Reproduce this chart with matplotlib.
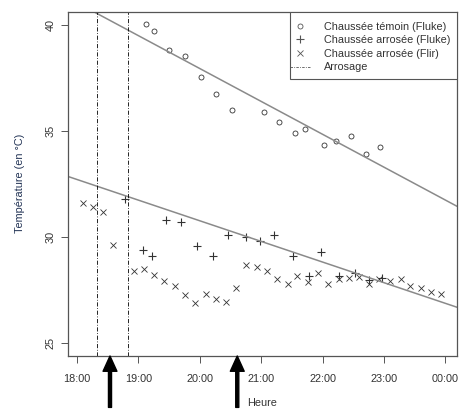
import matplotlib
matplotlib.use("Agg")
import matplotlib.pyplot as plt
from matplotlib.lines import Line2D
from matplotlib.patches import Rectangle
import numpy as np

plt.rcParams['font.family'] = ['Liberation Sans', 'DejaVu Sans']

# hours after 18:00
temoin_t = [1.13, 1.25, 1.50, 1.76, 2.02, 2.26, 2.52, 3.05, 3.29, 3.55, 3.72, 4.02, 4.21, 4.46, 4.71, 4.94]
temoin_v = [40.03, 39.72, 38.83, 38.55, 37.53, 36.75, 36.00, 35.90, 35.42, 34.93, 35.12, 34.34, 34.53, 34.75, 33.92, 34.23]

fluke_t = [0.78, 1.07, 1.22, 1.45, 1.69, 1.95, 2.21, 2.46, 2.75, 2.98, 3.21, 3.51, 3.78, 3.98, 4.27, 4.53, 4.76, 4.97]
fluke_v = [31.81, 29.40, 29.10, 30.80, 30.72, 29.59, 29.10, 30.11, 30.00, 29.81, 30.09, 29.12, 28.19, 29.32, 28.17, 28.30, 27.99, 28.09]

flir_t = [0.09, 0.26, 0.43, 0.59, 0.92, 1.09, 1.25, 1.42, 1.59, 1.76, 1.92, 2.10, 2.26, 2.42, 2.59,
          2.75, 2.93, 3.09, 3.26, 3.43, 3.59, 3.76, 3.93, 4.09, 4.26, 4.43, 4.59, 4.76, 4.92, 5.09,
          5.27, 5.43, 5.60, 5.77, 5.93]
flir_v = [31.63, 31.44, 31.21, 29.62, 28.43, 28.50, 28.21, 27.92, 27.70, 27.29, 26.89, 27.31, 27.09, 26.96, 27.59,
          28.69, 28.58, 28.41, 28.02, 27.80, 28.19, 27.91, 28.30, 27.80, 28.03, 28.09, 28.11, 27.81, 28.03, 27.92,
          28.02, 27.70, 27.61, 27.42, 27.31]

# regression lines (intercept at 18:00, slope per hour)
fit_temoin = (41.05, -1.55)
fit_arrosee = (32.72, -0.973)

arrosage_t = [0.32, 0.825]
arrow_t = [0.537, 2.61]

xtick_pos = [0, 1, 2, 3, 4, 5, 6]
xtick_lab = ['18:00', '19:00', '20:00', '21:00', '22:00', '23:00', '00:00']
ytick_pos = [25, 30, 35, 40]

fig = plt.figure(figsize=(4.59, 4.09), dpi=100)
ax = fig.add_axes([68/459, 1-356/409, (456.7-68)/459, (356-11.7)/409])
xlim = (-0.147, 6.184)
ylim = (24.40, 40.63)
ax.set_xlim(*xlim)
ax.set_ylim(*ylim)

mc = '#333333'
ax.plot(temoin_t, temoin_v, 'o', mfc='none', mec=mc, ms=3.6, mew=0.6)
ax.plot(fluke_t, fluke_v, '+', color=mc, ms=6, mew=0.8)
ax.plot(flir_t, flir_v, 'x', color=mc, ms=4.2, mew=0.6)

xs = np.array(xlim)
for a, b in (fit_temoin, fit_arrosee):
    ax.plot(xs, a + b * xs, color='#8a8a8a', lw=1.1)

ds = (0, (5, 2, 1, 2))
for t in arrosage_t:
    ax.axvline(t, color='black', lw=0.6, ls=ds)

for t in arrow_t:
    ax.annotate('', xy=(t, ylim[0]), xytext=(0, -37), textcoords='offset points',
                xycoords='data', annotation_clip=False,
                arrowprops=dict(facecolor='black', edgecolor='black', width=2.2,
                                headwidth=10, headlength=11, shrink=0))

for s in ax.spines.values():
    s.set_color('#555555')
    s.set_linewidth(0.9)

ax.set_xticks(xtick_pos)
ax.set_xticklabels(xtick_lab)
ax.set_yticks(ytick_pos)
ax.set_yticklabels([str(v) for v in ytick_pos], rotation=90, va='center')
ax.tick_params(axis='both', direction='out', length=5, width=0.7, color='#555555',
               labelsize=7.8, labelcolor='#333333')
ax.tick_params(axis='x', pad=8)
ax.tick_params(axis='y', pad=4)

ax.set_xlabel('Heure', fontsize=7.8, color='#333333')
ax.xaxis.set_label_coords(0.5, (356-403)/344.3)
ax.set_ylabel('Température (en °C)', fontsize=7.8, color='#223355')
ax.yaxis.set_label_coords((20-68)/388.7, 0.5)
ax.yaxis.label.set_va('center')
ax.xaxis.label.set_va('center')

# legend frame drawn as a box in axes coordinates
leg_x0 = (290-68)/388.7
leg_y0 = (356-78.7)/344.3
ax.add_patch(Rectangle((leg_x0, leg_y0), 1-leg_x0, 1-leg_y0, transform=ax.transAxes,
                       facecolor='white', edgecolor='#555555', lw=0.8, zorder=4))

handles = [
    Line2D([], [], marker='o', ls='none', mfc='none', mec='#555555', ms=3.6, mew=0.6),
    Line2D([], [], marker='+', ls='none', color='#555555', ms=6, mew=0.8),
    Line2D([], [], marker='x', ls='none', color='#555555', ms=4.2, mew=0.6),
    Line2D([], [], color='#555555', lw=0.6, ls=(0, (3, 1.5, 1, 1.5))),
]
labels = ['Chaussée témoin (Fluke)', 'Chaussée arrosée (Fluke)', 'Chaussée arrosée (Flir)', 'Arrosage']
leg = ax.legend(handles, labels, loc='upper left', bbox_to_anchor=(leg_x0, 1 - 10/344.3),
                borderaxespad=0, borderpad=0, frameon=False, fontsize=7.8,
                labelspacing=0.33, handlelength=1.85, handletextpad=1.3,
                labelcolor='#333333')
leg.set_zorder(5)

fig.savefig('out.png', dpi=100)
